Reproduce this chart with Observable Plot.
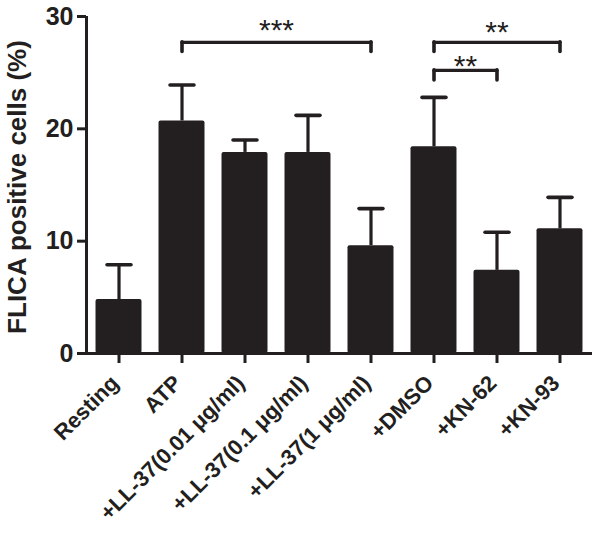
<!DOCTYPE html>
<html>
<head>
<meta charset="utf-8">
<script src="https://cdn.jsdelivr.net/npm/d3@7"></script>
<script src="https://cdn.jsdelivr.net/npm/@observablehq/plot@0.6"></script>
<style>
  html, body { margin: 0; padding: 0; background: #fff; }
</style>
</head>
<body>
<div id="chart"></div>
<script>
// ---- data ----
const categories = ["Resting", "ATP", "+LL-37(0.01 μg/ml)", "+LL-37(0.1 μg/ml)", "+LL-37(1 μg/ml)", "+DMSO", "+KN-62", "+KN-93"];
const means = [4.8, 20.7, 17.9, 17.9, 9.6, 18.4, 7.4, 11.1];
const upperErrors = [7.9, 23.9, 19.0, 21.2, 12.9, 22.8, 10.8, 13.9];
const yTicks = [0, 10, 20, 30];
const yTitle = "FLICA positive cells (%)";

const bracketFrom = ["ATP", "+DMSO", "+DMSO"];
const bracketTo = ["+LL-37(1 μg/ml)", "+KN-93", "+KN-62"];
const bracketTop = [27.7, 27.7, 25.2];
const bracketDrop = [26.85, 26.85, 24.3];
const bracketLabels = ["***", "**", "**"];
const labelY = [27.9, 27.7, 24.7];

// ---- derived tables ----
const ink = "#231f20";
const halfBar = 0.365;
const bars = categories.map((c, i) => ({i, name: c, mean: means[i], upper: upperErrors[i]}));
const brackets = bracketLabels.map((lab, k) => {
  const a = categories.indexOf(bracketFrom[k]);
  const b = categories.indexOf(bracketTo[k]);
  return {a, b, mid: (a + b) / 2, top: bracketTop[k], drop: bracketDrop[k], label: lab, ly: labelY[k]};
});
const xTickIdx = d3.range(categories.length);

const plot = Plot.plot({
  width: 600,
  height: 534,
  marginTop: 16,
  marginBottom: 181,
  marginLeft: 86,
  marginRight: 8,
  style: {fontFamily: "'Liberation Sans', Arial, Helvetica, sans-serif", fontWeight: "bold", color: ink, background: "#fff"},
  x: {type: "linear", domain: [-0.516, 7.516]},
  y: {domain: [0, 30]},
  marks: [
    // bars
    Plot.rectY(bars, {x1: d => d.i - halfBar, x2: d => d.i + halfBar, y1: 0, y2: "mean", fill: ink, rx: 2}),
    // error bars (upper only)
    Plot.ruleX(bars, {x: "i", y1: "mean", y2: "upper", stroke: ink, strokeWidth: 3.2}),
    Plot.link(bars, {x1: d => d.i - 0.19, x2: d => d.i + 0.19, y1: "upper", y2: "upper", stroke: ink, strokeWidth: 3.6, strokeLinecap: "round"}),
    // significance brackets
    Plot.link(brackets, {x1: "a", x2: "b", y1: "top", y2: "top", stroke: ink, strokeWidth: 3.2, strokeLinecap: "round"}),
    Plot.ruleX(brackets, {x: "a", y1: "drop", y2: "top", stroke: ink, strokeWidth: 3.6, strokeLinecap: "round"}),
    Plot.ruleX(brackets, {x: "b", y1: "drop", y2: "top", stroke: ink, strokeWidth: 3.6, strokeLinecap: "round"}),
    Plot.text(brackets, {x: "mid", y: "ly", text: "label", fontSize: 30, fontWeight: "normal", lineAnchor: "bottom", fill: ink, style: "letter-spacing:4px"}),
    // axis lines
    Plot.ruleY([0], {stroke: ink, strokeWidth: 3}),
    Plot.ruleX([-0.516], {y1: 0, y2: 30, stroke: ink, strokeWidth: 3}),
    // axes
    Plot.axisY({ticks: yTicks, tickSize: 9, tickPadding: 4, fontSize: 25, strokeWidth: 3, stroke: ink, fill: ink, label: null}),
    Plot.text([yTitle], {frameAnchor: "left", textAnchor: "middle", rotate: -90, dx: -69, dy: 2, fontSize: 26, fill: ink, style: "letter-spacing:1.9px"}),
    Plot.axisX({ticks: xTickIdx, tickFormat: null, text: null, tickSize: 10, strokeWidth: 3, stroke: ink, label: null}),
    Plot.axisX({ticks: xTickIdx, tickFormat: i => categories[i], tickRotate: -45, tickSize: 0, tickPadding: 24, dx: -4, dy: 2, fontSize: 22, fill: ink, label: null})
  ]
});
document.getElementById("chart").appendChild(plot);
</script>
</body>
</html>
